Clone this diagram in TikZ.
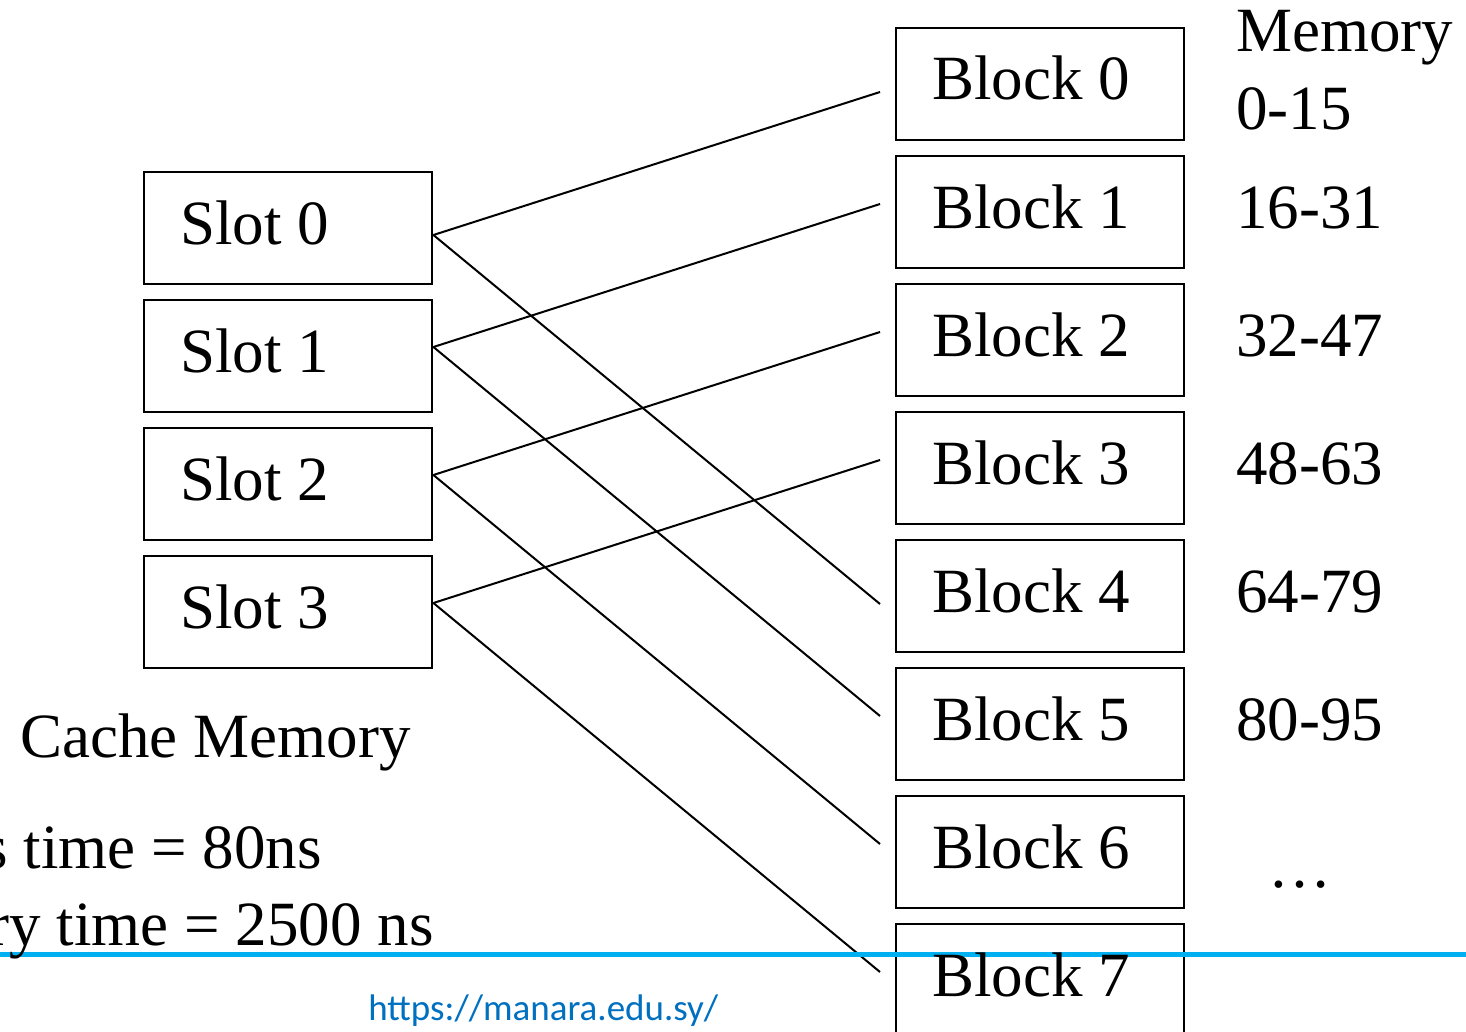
\documentclass[tikz,border=0pt]{standalone}
\usepackage{fontspec}
\setmainfont{Liberation Serif}
\newfontfamily\urlfont{Carlito}
\definecolor{lineblue}{HTML}{00B0F0}
\definecolor{urlblue}{HTML}{0070C0}
\begin{document}
\begin{tikzpicture}[x=0.5pt,y=-0.5pt,
  box/.style={draw,line width=1.4pt,minimum width=144pt,minimum height=56pt,inner sep=0pt},
  txt/.style={font=\fontsize{31.5pt}{38pt}\selectfont,inner sep=0pt,anchor=base west},
  link/.style={line width=1pt}]
\useasboundingbox (0,0) rectangle (1466,1032);
\clip (0,0) rectangle (1466,1032);
\fill[white] (0,0) rectangle (1466,1032);
% cache slots
\foreach \i in {0,...,3}{
  \node[box] (s\i) at (288,{228+128*\i}) {};
}
% memory blocks
\foreach \i in {0,...,7}{
  \node[box] (b\i) at (1040,{84+128*\i}) {};
}
% free ends of connectors
\coordinate (u0) at (880,92);
\coordinate (u1) at (880,204);
\coordinate (u2) at (880,332);
\coordinate (u3) at (880,460);
\coordinate (d0) at (880,604);
\coordinate (d1) at (880,716);
\coordinate (d2) at (880,844);
\coordinate (d3) at (880,972);
% connectors
\draw[link] ([yshift=-3.5pt]s0.east) -- (u0);
\draw[link] ([yshift=-3.5pt]s0.east) -- (d0);
\foreach \i in {1,2,3}{
  \draw[link] ([yshift=4.5pt]s\i.east) -- (u\i);
  \draw[link] ([yshift=4.5pt]s\i.east) -- (d\i);
}
% blue rule
\draw[line width=2.5pt,lineblue] (0,954) -- (1466,954);
% labels
\foreach \i in {0,...,3}{
  \node[txt] (st\i) at (180,{244+128*\i}) {Slot \i};
}
\foreach \i in {0,...,7}{
  \node[txt] (bt\i) at (932,{100+128*\i}) {Block \i};
}
\node[txt] (mem) at (1236,52) {Memory};
\node[txt] (r0) at (1236,130) {0-15};
\node[txt] (r1) at (1236,228) {16-31};
\node[txt] (r2) at (1236,356) {32-47};
\node[txt] (r3) at (1236,484) {48-63};
\node[txt] (r4) at (1236,612) {64-79};
\node[txt] (r5) at (1236,740) {80-95};
\node[txt] (dots) at (1268,887) {…};
\node[txt] (cache) at (20,757) {Cache Memory};
\node[txt,anchor=base east] (t1) at (322,868) {s time = 80ns};
\node[txt,anchor=base east] (t2) at (434,945) {ry time = 2500 ns};
\node[inner sep=0pt,anchor=base west,font=\urlfont\fontsize{18.5pt}{22pt}\selectfont,text=urlblue] (url) at (368,1020) {https://manara.edu.sy/};
\end{tikzpicture}
\end{document}
